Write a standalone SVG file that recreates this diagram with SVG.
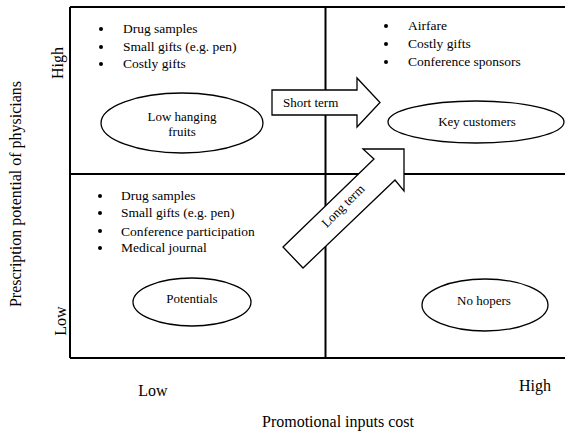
<svg xmlns="http://www.w3.org/2000/svg" width="565" height="433" viewBox="0 0 565 433">
<style>
text{font-family:"Liberation Serif","Times New Roman",serif;fill:#000}
.b{font-size:13.5px}
.l{font-size:13px;text-anchor:middle}
.ax{font-size:16px;text-anchor:middle}
.grid{stroke:#000;stroke-width:2;fill:none}
.ell{fill:#fff;stroke:#000;stroke-width:1.3}
.arr{fill:#fff;stroke:#000;stroke-width:1.3}
.dot{fill:#000}
</style>
<rect width="565" height="433" fill="#fff"/>
<g id="grid">
<line class="grid" x1="70" y1="7" x2="565" y2="7"/>
<line class="grid" x1="70" y1="358" x2="565" y2="358"/>
<line class="grid" x1="70" y1="7" x2="70" y2="358"/>
<line class="grid" x1="70" y1="174" x2="565" y2="174"/>
<line class="grid" x1="325.5" y1="7" x2="325.5" y2="358"/>
</g>
<g id="axes">
<text class="ax" transform="translate(21,194) rotate(-90)">Prescription potential of physicians</text>
<text class="ax" transform="translate(63,63) rotate(-90)">High</text>
<text class="ax" transform="translate(66,321) rotate(-90)">Low</text>
<text class="ax" x="153" y="396">Low</text>
<text class="ax" x="535" y="391">High</text>
<text class="ax" x="338" y="427">Promotional inputs cost</text>
</g>
<g id="list-tl">
<circle class="dot" cx="101" cy="29" r="2"/><text class="b" x="123" y="33">Drug samples</text>
<circle class="dot" cx="101" cy="47" r="2"/><text class="b" x="123" y="51">Small gifts (e.g. pen)</text>
<circle class="dot" cx="101" cy="64" r="2"/><text class="b" x="123" y="68">Costly gifts</text>
</g>
<g id="list-tr">
<circle class="dot" cx="386" cy="26" r="2"/><text class="b" x="408" y="30">Airfare</text>
<circle class="dot" cx="386" cy="44" r="2"/><text class="b" x="408" y="48">Costly gifts</text>
<circle class="dot" cx="386" cy="62" r="2"/><text class="b" x="408" y="66">Conference sponsors</text>
</g>
<g id="list-bl">
<circle class="dot" cx="100" cy="196" r="2"/><text class="b" x="121" y="200">Drug samples</text>
<circle class="dot" cx="100" cy="213" r="2"/><text class="b" x="121" y="217">Small gifts (e.g. pen)</text>
<circle class="dot" cx="100" cy="231" r="2"/><text class="b" x="121" y="236">Conference participation</text>
<circle class="dot" cx="100" cy="248" r="2"/><text class="b" x="121" y="252">Medical journal</text>
</g>
<g id="low-hanging-fruits">
<ellipse class="ell" cx="182" cy="123" rx="81" ry="30"/>
<text class="l" x="182" y="121">Low hanging</text>
<text class="l" x="182" y="136">fruits</text>
</g>
<g id="key-customers">
<ellipse class="ell" cx="476" cy="122" rx="88" ry="21"/>
<text class="l" x="477" y="126">Key customers</text>
</g>
<g id="potentials">
<ellipse class="ell" cx="192" cy="302" rx="59" ry="24"/>
<text class="l" x="192" y="303">Potentials</text>
</g>
<g id="no-hopers">
<ellipse class="ell" cx="485" cy="305" rx="63" ry="26"/>
<text class="l" x="484" y="305">No hopers</text>
</g>
<g id="connectors">
<g id="short-term">
<polygon class="arr" points="272,90 357,90 357,78 380,102.5 357,127 357,115 272,115"/>
<text class="b" x="283" y="107" style="font-size:13px">Short term</text>
</g>
<g id="long-term">
<polygon class="arr" points="283,247 374,159 363,149 404,149 404,191 395,180 303,268"/>
<text class="l" transform="translate(346,209) rotate(-45)">Long term</text>
</g>
</g>
</svg>
